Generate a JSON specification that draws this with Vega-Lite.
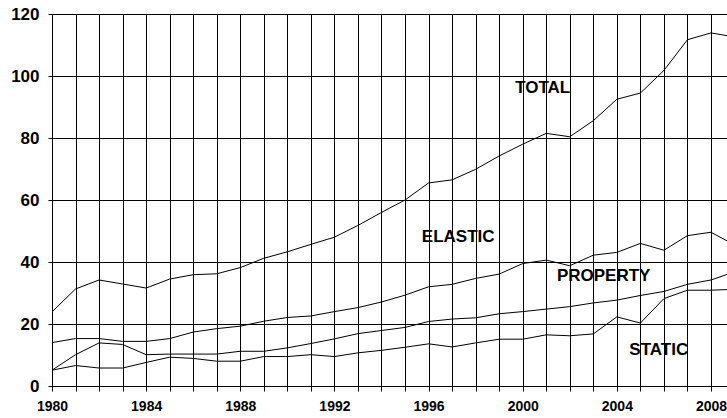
{
  "$schema": "https://vega.github.io/schema/vega-lite/v6.json",
  "autosize": "none",
  "padding": {"left": 52, "top": 14, "right": 0, "bottom": 32},
  "width": 675,
  "height": 372,
  "background": "white",
  "config": {
    "view": {"stroke": null},
    "font": "Liberation Sans"
  },
  "datasets": {
    "lines": [
      {"series": "TOTAL", "year": 1980, "value": 23.9},
      {"series": "TOTAL", "year": 1981, "value": 31.3},
      {"series": "TOTAL", "year": 1982, "value": 34.2},
      {"series": "TOTAL", "year": 1983, "value": 32.9},
      {"series": "TOTAL", "year": 1984, "value": 31.6},
      {"series": "TOTAL", "year": 1985, "value": 34.5},
      {"series": "TOTAL", "year": 1986, "value": 35.9},
      {"series": "TOTAL", "year": 1987, "value": 36.2},
      {"series": "TOTAL", "year": 1988, "value": 38.2},
      {"series": "TOTAL", "year": 1989, "value": 41.2},
      {"series": "TOTAL", "year": 1990, "value": 43.3},
      {"series": "TOTAL", "year": 1991, "value": 45.7},
      {"series": "TOTAL", "year": 1992, "value": 48.0},
      {"series": "TOTAL", "year": 1993, "value": 51.8},
      {"series": "TOTAL", "year": 1994, "value": 56.0},
      {"series": "TOTAL", "year": 1995, "value": 60.0},
      {"series": "TOTAL", "year": 1996, "value": 65.5},
      {"series": "TOTAL", "year": 1997, "value": 66.5},
      {"series": "TOTAL", "year": 1998, "value": 69.9},
      {"series": "TOTAL", "year": 1999, "value": 74.2},
      {"series": "TOTAL", "year": 2000, "value": 78.0},
      {"series": "TOTAL", "year": 2001, "value": 81.5},
      {"series": "TOTAL", "year": 2002, "value": 80.4},
      {"series": "TOTAL", "year": 2003, "value": 85.6},
      {"series": "TOTAL", "year": 2004, "value": 92.5},
      {"series": "TOTAL", "year": 2005, "value": 94.5},
      {"series": "TOTAL", "year": 2006, "value": 101.8},
      {"series": "TOTAL", "year": 2007, "value": 111.7},
      {"series": "TOTAL", "year": 2008, "value": 113.9},
      {"series": "TOTAL", "year": 2009, "value": 112.6},
      {"series": "ELASTIC", "year": 1980, "value": 14.0},
      {"series": "ELASTIC", "year": 1981, "value": 15.3},
      {"series": "ELASTIC", "year": 1982, "value": 15.3},
      {"series": "ELASTIC", "year": 1983, "value": 14.4},
      {"series": "ELASTIC", "year": 1984, "value": 14.4},
      {"series": "ELASTIC", "year": 1985, "value": 15.3},
      {"series": "ELASTIC", "year": 1986, "value": 17.4},
      {"series": "ELASTIC", "year": 1987, "value": 18.5},
      {"series": "ELASTIC", "year": 1988, "value": 19.3},
      {"series": "ELASTIC", "year": 1989, "value": 20.9},
      {"series": "ELASTIC", "year": 1990, "value": 22.1},
      {"series": "ELASTIC", "year": 1991, "value": 22.6},
      {"series": "ELASTIC", "year": 1992, "value": 24.0},
      {"series": "ELASTIC", "year": 1993, "value": 25.3},
      {"series": "ELASTIC", "year": 1994, "value": 27.1},
      {"series": "ELASTIC", "year": 1995, "value": 29.3},
      {"series": "ELASTIC", "year": 1996, "value": 32.0},
      {"series": "ELASTIC", "year": 1997, "value": 32.8},
      {"series": "ELASTIC", "year": 1998, "value": 34.7},
      {"series": "ELASTIC", "year": 1999, "value": 36.1},
      {"series": "ELASTIC", "year": 2000, "value": 39.5},
      {"series": "ELASTIC", "year": 2001, "value": 40.6},
      {"series": "ELASTIC", "year": 2002, "value": 38.8},
      {"series": "ELASTIC", "year": 2003, "value": 42.2},
      {"series": "ELASTIC", "year": 2004, "value": 43.1},
      {"series": "ELASTIC", "year": 2005, "value": 46.0},
      {"series": "ELASTIC", "year": 2006, "value": 43.8},
      {"series": "ELASTIC", "year": 2007, "value": 48.5},
      {"series": "ELASTIC", "year": 2008, "value": 49.6},
      {"series": "ELASTIC", "year": 2009, "value": 45.5},
      {"series": "PROPERTY", "year": 1980, "value": 5.1},
      {"series": "PROPERTY", "year": 1981, "value": 10.1},
      {"series": "PROPERTY", "year": 1982, "value": 13.9},
      {"series": "PROPERTY", "year": 1983, "value": 13.4},
      {"series": "PROPERTY", "year": 1984, "value": 10.1},
      {"series": "PROPERTY", "year": 1985, "value": 10.3},
      {"series": "PROPERTY", "year": 1986, "value": 10.3},
      {"series": "PROPERTY", "year": 1987, "value": 10.3},
      {"series": "PROPERTY", "year": 1988, "value": 11.2},
      {"series": "PROPERTY", "year": 1989, "value": 11.2},
      {"series": "PROPERTY", "year": 1990, "value": 12.3},
      {"series": "PROPERTY", "year": 1991, "value": 13.7},
      {"series": "PROPERTY", "year": 1992, "value": 15.2},
      {"series": "PROPERTY", "year": 1993, "value": 16.9},
      {"series": "PROPERTY", "year": 1994, "value": 17.9},
      {"series": "PROPERTY", "year": 1995, "value": 18.9},
      {"series": "PROPERTY", "year": 1996, "value": 20.8},
      {"series": "PROPERTY", "year": 1997, "value": 21.6},
      {"series": "PROPERTY", "year": 1998, "value": 22.0},
      {"series": "PROPERTY", "year": 1999, "value": 23.3},
      {"series": "PROPERTY", "year": 2000, "value": 24.0},
      {"series": "PROPERTY", "year": 2001, "value": 24.8},
      {"series": "PROPERTY", "year": 2002, "value": 25.6},
      {"series": "PROPERTY", "year": 2003, "value": 26.8},
      {"series": "PROPERTY", "year": 2004, "value": 27.7},
      {"series": "PROPERTY", "year": 2005, "value": 29.2},
      {"series": "PROPERTY", "year": 2006, "value": 30.5},
      {"series": "PROPERTY", "year": 2007, "value": 32.8},
      {"series": "PROPERTY", "year": 2008, "value": 34.2},
      {"series": "PROPERTY", "year": 2009, "value": 36.8},
      {"series": "STATIC", "year": 1980, "value": 5.1},
      {"series": "STATIC", "year": 1981, "value": 6.6},
      {"series": "STATIC", "year": 1982, "value": 5.8},
      {"series": "STATIC", "year": 1983, "value": 5.8},
      {"series": "STATIC", "year": 1984, "value": 7.6},
      {"series": "STATIC", "year": 1985, "value": 9.3},
      {"series": "STATIC", "year": 1986, "value": 8.9},
      {"series": "STATIC", "year": 1987, "value": 8.0},
      {"series": "STATIC", "year": 1988, "value": 8.0},
      {"series": "STATIC", "year": 1989, "value": 9.5},
      {"series": "STATIC", "year": 1990, "value": 9.5},
      {"series": "STATIC", "year": 1991, "value": 10.1},
      {"series": "STATIC", "year": 1992, "value": 9.5},
      {"series": "STATIC", "year": 1993, "value": 10.7},
      {"series": "STATIC", "year": 1994, "value": 11.5},
      {"series": "STATIC", "year": 1995, "value": 12.5},
      {"series": "STATIC", "year": 1996, "value": 13.6},
      {"series": "STATIC", "year": 1997, "value": 12.6},
      {"series": "STATIC", "year": 1998, "value": 13.9},
      {"series": "STATIC", "year": 1999, "value": 15.1},
      {"series": "STATIC", "year": 2000, "value": 15.1},
      {"series": "STATIC", "year": 2001, "value": 16.5},
      {"series": "STATIC", "year": 2002, "value": 16.2},
      {"series": "STATIC", "year": 2003, "value": 16.8},
      {"series": "STATIC", "year": 2004, "value": 22.3},
      {"series": "STATIC", "year": 2005, "value": 20.3},
      {"series": "STATIC", "year": 2006, "value": 28.2},
      {"series": "STATIC", "year": 2007, "value": 30.9},
      {"series": "STATIC", "year": 2008, "value": 30.9},
      {"series": "STATIC", "year": 2009, "value": 31.2}
    ],
    "labels": [
      {"label": "TOTAL", "year": 2000.85, "value": 96.0},
      {"label": "ELASTIC", "year": 1997.26, "value": 48.2},
      {"label": "PROPERTY", "year": 2003.44, "value": 35.6},
      {"label": "STATIC", "year": 2005.78, "value": 11.6}
    ]
  },
  "layer": [
    {
      "data": {"name": "lines"},
      "mark": {"type": "line", "color": "black", "strokeWidth": 1, "clip": true},
      "encoding": {
        "x": {
          "field": "year",
          "type": "quantitative",
          "scale": {"domain": [1980, 2008.68], "nice": false, "zero": false},
          "axis": {
            "title": null,
            "values": [1980,1981,1982,1983,1984,1985,1986,1987,1988,1989,1990,1991,1992,1993,1994,1995,1996,1997,1998,1999,2000,2001,2002,2003,2004,2005,2006,2007,2008],
            "tickCount": 40,
            "labelExpr": "datum.value % 4 == 0 ? datum.label : ''",
            "format": "d",
            "labelOverlap": false,
            "labelFont": "Liberation Sans",
            "labelFontSize": 14,
            "labelFontWeight": "bold",
            "labelColor": "black",
            "labelPadding": 8,
            "labelFlush": false,
            "labelBound": false,
            "tickSize": 5,
            "tickColor": "black",
            "domainColor": "black",
            "grid": true,
            "gridColor": "black",
            "gridOpacity": 1,
            "gridWidth": 1
          }
        },
        "y": {
          "field": "value",
          "type": "quantitative",
          "scale": {"domain": [0, 120], "nice": false},
          "axis": {
            "title": null,
            "values": [0, 20, 40, 60, 80, 100, 120],
            "tickCount": 10,
            "labelFont": "Liberation Sans",
            "labelFontSize": 17,
            "labelFontWeight": "bold",
            "labelColor": "black",
            "labelPadding": 9,
            "tickSize": 4,
            "tickColor": "black",
            "domainColor": "black",
            "grid": true,
            "gridColor": "black",
            "gridOpacity": 1,
            "gridWidth": 1
          }
        },
        "detail": {"field": "series", "type": "nominal"}
      }
    },
    {
      "data": {"name": "labels"},
      "mark": {"type": "text", "font": "Liberation Sans", "fontSize": 17, "fontWeight": "bold", "color": "black", "align": "center", "baseline": "middle"},
      "encoding": {
        "x": {"field": "year", "type": "quantitative"},
        "y": {"field": "value", "type": "quantitative"},
        "text": {"field": "label", "type": "nominal"}
      }
    }
  ]
}
